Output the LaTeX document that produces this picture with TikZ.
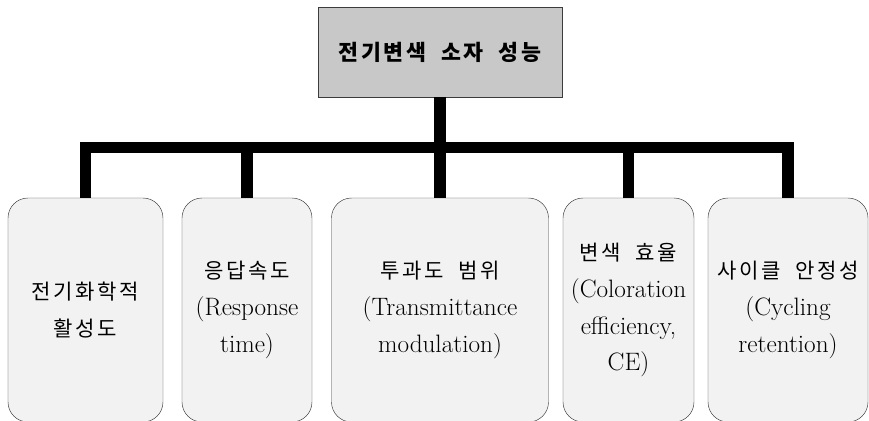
\documentclass[tikz,border=0pt]{standalone}
\usepackage{fontspec}
\newfontfamily\kr[LetterSpace=12]{Noto Sans CJK KR}
\definecolor{titlegray}{RGB}{200,200,200}
\definecolor{boxgray}{RGB}{242,242,242}
\definecolor{edge}{RGB}{60,60,60}
\newcommand{\krline}[1]{{\kr\fontsize{18}{31.5}\selectfont #1}}
\begin{document}
\begin{tikzpicture}[x=0.03cm,y=-0.03cm,
  box/.style={draw=edge,fill=boxgray,rounded corners=0.6cm,minimum height=6.72cm,
    align=center,inner sep=0pt,font=\fontsize{21.5}{31.5}\selectfont},
  bus/.style={line width=10.2pt}]
\useasboundingbox (0,0) rectangle (869,420);
% top node
\node[draw=edge,fill=titlegray,minimum width=7.32cm,minimum height=2.7cm]
  (title) at (440,52) {\kr\bfseries\fontsize{18.5}{20}\selectfont 전기변색\ \ 소자\ \ 성능};
% property boxes
\node[box,minimum width=4.65cm] (elec) at (85.5,310) {\krline{전기화학적}\\\krline{활성도}};
\node[box,minimum width=3.9cm] (resp) at (247,310) {\krline{응답속도}\\(Response\\time)};
\node[box,minimum width=6.51cm] (trans) at (440,310) {\krline{투과도\ \ 범위}\\(Transmittance\\modulation)};
\node[box,minimum width=3.93cm] (color) at (628.5,310) {\krline{변색\ \ 효율}\\(Coloration\\efficiency,\\CE)};
\node[box,minimum width=4.8cm] (cycle) at (788,310) {\krline{사이클\ \ 안정성}\\(Cycling\\retention)};
% connectors
\coordinate (jn) at (440,147.5);
\draw[bus] (title) -- (jn);
\draw[bus] (elec.north) |- (jn) -| (cycle.north);
\foreach \n in {resp,trans,color}
  \draw[bus] (\n.north) -- (\n.north |- jn);
\end{tikzpicture}
\end{document}
